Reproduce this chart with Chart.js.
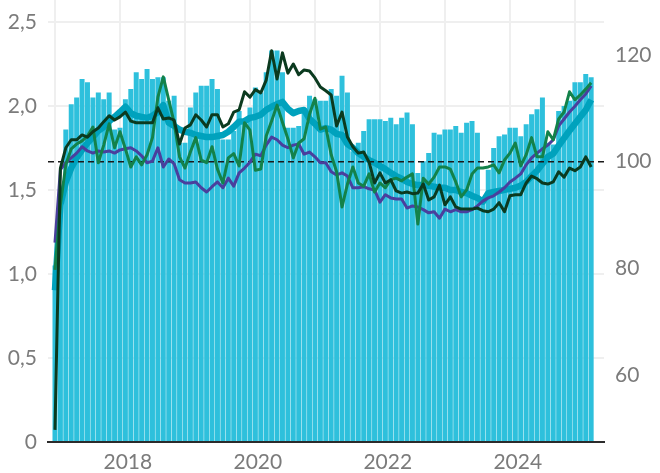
<!DOCTYPE html>
<html lang="fi">
<head>
<meta charset="utf-8">
<script src="https://cdn.jsdelivr.net/npm/chart.js@4.4.1/dist/chart.umd.min.js"></script>
<style>
  html, body { margin: 0; padding: 0; background: #fff; }
  #wrap { width: 660px; height: 473px; position: relative; }
</style>
</head>
<body>
<div id="wrap"><canvas id="chart"></canvas></div>
<script>
// monthly bars (left axis) and four index lines (right axis, 100 = dashed baseline)
const bars = [
  1.05, 1.42, 1.86, 2.01, 2.05, 2.16, 2.14, 2.05, 2.08, 2.04,
  2.08, 1.86, 1.87, 2.04, 2.10, 2.20, 2.16, 2.22, 2.16, 2.17,
  2.17, 2.03, 2.06, 1.78, 1.78, 1.99, 2.08, 2.12, 2.12, 2.16,
  2.10, 1.80, 1.80, 1.85, 1.97, 1.92, 1.99, 2.11, 2.08, 2.20,
  2.33, 2.33, 2.20, 1.87, 1.87, 1.88, 1.96, 2.06, 2.04, 2.03,
  2.03, 2.10, 2.06, 2.18, 2.08, 1.73, 1.78, 1.85, 1.92, 1.92,
  1.92, 1.91, 1.93, 1.89, 1.93, 1.96, 1.89, 1.60, 1.67, 1.72,
  1.84, 1.83, 1.86, 1.86, 1.88, 1.84, 1.90, 1.91, 1.84, 1.45,
  1.62, 1.75, 1.82, 1.83, 1.87, 1.87, 1.82, 1.89, 1.95, 1.98,
  2.05, 1.78, 1.77, 1.97, 2.00, 2.03, 2.14, 2.14, 2.19, 2.17
];

const tealLine = [
  75.9, 91.9, 96.2, 98.8, 100.7, 102.2, 103.5, 104.6, 105.8, 106.5,
  107.6, 108.4, 109.3, 110.3, 109.1, 108.6, 108.4, 108.2, 108.6, 109.3,
  110.6, 107.3, 106.7, 106.0, 105.6, 105.4, 105.0, 104.8, 104.6, 104.6,
  104.8, 105.0, 105.6, 106.5, 107.5, 107.6, 108.2, 108.4, 108.8, 109.7,
  110.3, 110.8, 111.2, 109.9, 109.1, 109.5, 109.7, 108.0, 107.1, 106.0,
  106.3, 106.0, 105.2, 105.0, 103.3, 102.6, 101.6, 100.9, 100.3, 99.8,
  99.2, 98.6, 97.9, 97.3, 96.8, 96.2, 95.8, 95.6, 95.6, 95.5,
  95.3, 95.1, 95.1, 94.7, 94.7, 94.3, 94.1, 93.6, 93.2, 92.5,
  94.1, 94.3, 94.5, 94.7, 94.9, 95.1, 95.5, 96.2, 97.3, 98.3,
  99.6, 100.9, 101.5, 103.0, 104.4, 105.8, 107.1, 108.4, 109.7, 111.6
];

const purpleLine = [
  84.8, 98.5, 99.8, 100.7, 101.6, 102.8, 102.0, 101.6, 102.0, 101.8,
  102.0, 101.6, 102.2, 102.4, 102.6, 102.0, 101.1, 99.8, 100.1, 102.6,
  99.0, 100.5, 99.6, 96.6, 96.0, 96.0, 96.2, 95.1, 94.3, 95.3,
  96.2, 95.1, 96.9, 95.4, 97.9, 98.8, 99.9, 101.4, 101.1, 103.1,
  104.6, 104.1, 103.1, 102.6, 103.1, 103.3, 101.4, 101.8, 100.9, 99.8,
  99.8, 98.1, 97.5, 97.9, 97.3, 95.1, 95.1, 95.3, 94.9, 94.7,
  92.4, 93.8, 93.2, 93.0, 93.0, 91.3, 91.7, 91.5, 91.0, 90.4,
  90.6, 89.4, 91.1, 90.6, 91.0, 90.6, 90.6, 91.0, 91.7, 92.6,
  93.2, 93.6, 94.3, 95.1, 96.2, 96.9, 97.7, 99.4, 100.7, 101.6,
  102.4, 103.1, 104.1, 106.7, 108.0, 109.3, 110.4, 111.6, 112.7, 114.2
];

const greenLine = [
  79.7, 91.9, 99.4, 102.4, 103.3, 103.9, 104.8, 106.5, 99.8, 103.1,
  107.1, 102.6, 105.6, 102.4, 99.0, 100.9, 99.4, 101.3, 104.5, 112.1,
  115.9, 111.6, 107.3, 100.9, 98.8, 101.8, 104.5, 100.3, 99.8, 102.8,
  98.6, 96.0, 100.7, 101.5, 99.2, 107.3, 105.9, 98.4, 98.6, 104.8,
  107.6, 110.6, 107.4, 104.3, 100.7, 103.5, 104.3, 108.9, 111.9, 106.1,
  106.5, 101.3, 98.1, 91.5, 95.8, 99.0, 96.0, 95.4, 97.7, 94.3,
  96.0, 95.1, 96.6, 96.9, 96.4, 97.1, 97.7, 88.3, 96.9, 95.8,
  97.1, 99.0, 99.0, 98.6, 96.2, 93.4, 94.7, 97.7, 98.8, 98.8,
  99.0, 99.4, 97.9, 100.3, 101.6, 103.5, 99.2, 101.3, 104.5, 100.9,
  100.9, 105.6, 104.1, 108.0, 109.3, 113.1, 111.6, 112.5, 113.6, 114.8
];

const darkLine = [
  49.7, 98.8, 102.6, 104.1, 104.1, 105.0, 104.6, 105.6, 106.3, 107.5,
  108.6, 107.8, 108.4, 109.3, 107.6, 107.3, 107.3, 107.3, 107.3, 110.1,
  108.0, 108.2, 107.8, 103.3, 106.3, 106.9, 108.8, 107.8, 106.5, 108.8,
  108.8, 106.5, 107.1, 109.3, 109.7, 113.1, 112.1, 113.5, 112.9, 115.3,
  120.8, 115.5, 120.4, 116.6, 118.3, 116.3, 117.2, 117.0, 115.7, 114.0,
  113.3, 112.5, 106.7, 109.3, 104.6, 102.8, 101.6, 101.8, 99.9, 96.0,
  97.9, 96.0, 96.6, 94.5, 94.1, 94.3, 94.0, 94.1, 95.8, 92.8,
  93.4, 95.6, 91.9, 93.4, 91.5, 91.1, 91.1, 91.1, 91.3, 90.8,
  90.6, 91.1, 92.3, 90.6, 93.6, 93.8, 93.8, 96.0, 97.3, 96.8,
  96.0, 95.8, 96.2, 98.1, 97.1, 98.8, 98.3, 99.0, 100.9, 99.0
];

const leftTicks = [0, 0.5, 1, 1.5, 2, 2.5];
const rightTicks = [60, 80, 100, 120];
const yearLabels = ['2018', '2020', '2022', '2024'];
const yearLabelAt = [13.45, 37.45, 61.45, 85.45];
const yearGridAt = [0, 12, 24, 36, 48, 60, 72, 84, 96];
const baseline = 100;

const X_MIN = -1.29, X_MAX = 101.37;
const textColor = '#7b7b7b';
const gridColor = '#efefef';
const tickFont = { family: 'Lato', size: 21 };

const pts = arr => arr.map((v, i) => ({ x: i, y: v }));

function lineSet(data, color, width, order) {
  return {
    type: 'line',
    data: pts(data),
    yAxisID: 'y1',
    borderColor: color,
    borderWidth: width,
    pointRadius: 0,
    tension: 0,
    borderJoinStyle: 'round',
    fill: false,
    order
  };
}

const datasets = [
  lineSet(darkLine, '#0b3a1f', 3, 1),
  lineSet(greenLine, '#13824a', 3, 2),
  lineSet(purpleLine, '#4a3f9d', 3, 3),
  {
    type: 'line',
    data: [{ x: X_MIN, y: baseline }, { x: X_MAX, y: baseline }],
    yAxisID: 'y1',
    borderColor: '#1a1a1a',
    borderWidth: 1.5,
    borderDash: [6, 4],
    pointRadius: 0,
    order: 4
  },
  lineSet(tealLine, '#00a2bd', 6.5, 5),
  {
    type: 'bar',
    data: pts(bars),
    yAxisID: 'y',
    backgroundColor: '#2ec0dc',
    borderWidth: 0,
    barPercentage: 0.92,
    categoryPercentage: 1,
    order: 6
  }
];

new Chart(document.getElementById('chart'), {
  type: 'bar',
  data: { datasets },
  options: {
    responsive: true,
    maintainAspectRatio: false,
    animation: false,
    layout: { padding: 0 },
    plugins: { legend: { display: false }, tooltip: { enabled: false } },
    scales: {
      x: {
        type: 'linear',
        min: X_MIN,
        max: X_MAX,
        offset: false,
        afterBuildTicks: s => {
          s.ticks = [...yearGridAt, ...yearLabelAt].sort((a, b) => a - b).map(v => ({ value: v }));
        },
        afterFit: s => { s.height = 31; s.paddingLeft = 0; s.paddingRight = 0; },
        grid: {
          offset: false,
          drawTicks: false,
          lineWidth: 2,
          color: c => (c.tick && yearGridAt.includes(c.tick.value)) ? gridColor : 'rgba(0,0,0,0)'
        },
        border: { display: true, color: '#2b2b2b', width: 2 },
        ticks: {
          autoSkip: false,
          maxRotation: 0,
          padding: 8,
          color: textColor,
          font: tickFont,
          callback: v => {
            const k = yearLabelAt.indexOf(v);
            return k >= 0 ? yearLabels[k] : '';
          }
        }
      },
      y: {
        position: 'left',
        min: 0,
        max: 2.63,
        afterBuildTicks: s => { s.ticks = leftTicks.map(v => ({ value: v })); },
        afterFit: s => { s.width = 48; s.paddingTop = 0; s.paddingBottom = 0; },
        grid: { drawTicks: false, lineWidth: 2, color: gridColor },
        border: { display: false },
        ticks: {
          padding: 11,
          color: textColor,
          font: tickFont,
          callback: v => v === 0 ? '0' : v.toFixed(1).replace('.', ',')
        }
      },
      y1: {
        position: 'right',
        min: 47.43,
        max: 130.31,
        afterBuildTicks: s => { s.ticks = rightTicks.map(v => ({ value: v })); },
        afterFit: s => { s.width = 56; s.paddingTop = 0; s.paddingBottom = 0; },
        grid: { display: false, drawTicks: false },
        border: { display: false },
        ticks: { padding: 11, color: textColor, font: tickFont }
      }
    }
  }
});
</script>
</body>
</html>
